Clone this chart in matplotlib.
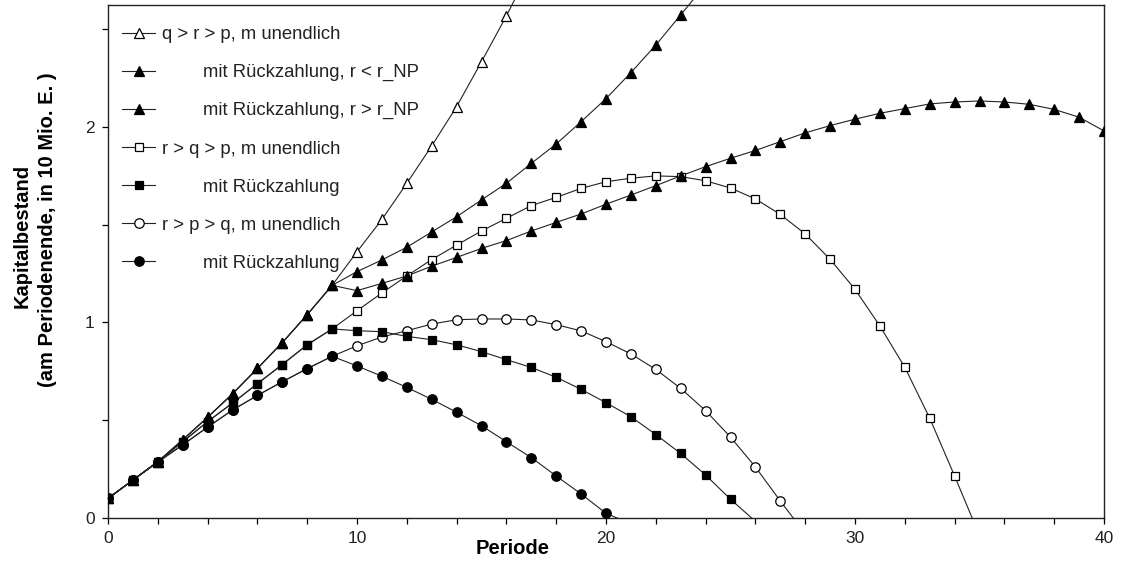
import numpy as np
import matplotlib
matplotlib.use("Agg")
import matplotlib.pyplot as plt
from matplotlib.lines import Line2D
from matplotlib.ticker import MultipleLocator

plt.rcParams['font.family'] = ['Liberation Sans', 'DejaVu Sans']

# ---- data ----
early_tri = [0.10, 0.194, 0.288, 0.40, 0.515, 0.635, 0.765, 0.897, 1.04, 1.19]
early_sq = [0.10, 0.194, 0.288, 0.39, 0.493, 0.588, 0.687, 0.785, 0.886, 0.967]
early_ci = [0.10, 0.194, 0.286, 0.374, 0.465, 0.552, 0.627, 0.697, 0.764, 0.827]

qrp_inf = early_tri + [1.362, 1.527, 1.712, 1.903, 2.104, 2.334, 2.568, 2.82]
qrp_rueck_lt = early_tri + [1.26, 1.32, 1.385, 1.463, 1.541, 1.627, 1.712, 1.814,
                            1.913, 2.027, 2.145, 2.278, 2.419, 2.573, 2.73]
qrp_rueck_gt = early_tri + [1.163, 1.20, 1.238, 1.288, 1.333, 1.379, 1.419, 1.468,
                            1.512, 1.555, 1.605, 1.652, 1.70, 1.75, 1.797, 1.84,
                            1.88, 1.925, 1.97, 2.007, 2.04, 2.07, 2.094, 2.118,
                            2.128, 2.133, 2.128, 2.116, 2.09, 2.05, 1.98]
rqp_inf = early_sq + [1.06, 1.151, 1.238, 1.322, 1.396, 1.468, 1.533, 1.598, 1.64,
                      1.686, 1.72, 1.738, 1.75, 1.746, 1.725, 1.688, 1.632, 1.553,
                      1.453, 1.323, 1.17, 0.982, 0.771, 0.511, 0.215, -0.09]
rqp_rueck = early_sq + [0.958, 0.953, 0.929, 0.912, 0.886, 0.851, 0.81, 0.77, 0.72,
                        0.658, 0.59, 0.518, 0.427, 0.33, 0.22, 0.096, -0.017]
rpq_inf = early_ci + [0.881, 0.926, 0.958, 0.992, 1.014, 1.018, 1.018, 1.013, 0.989,
                      0.957, 0.902, 0.839, 0.76, 0.663, 0.549, 0.414, 0.261, 0.087, -0.08]
rpq_rueck = early_ci + [0.778, 0.725, 0.668, 0.607, 0.541, 0.472, 0.39, 0.309, 0.215,
                        0.123, 0.024, -0.03]

labels = ["q > r > p, m unendlich",
          "        mit Rückzahlung, r < r_NP",
          "        mit Rückzahlung, r > r_NP",
          "r > q > p, m unendlich",
          "        mit Rückzahlung",
          "r > p > q, m unendlich",
          "        mit Rückzahlung"]

XMAX = 40
YMAX = 2.624

# ---- figure ----
fig = plt.figure(figsize=(11.21, 5.64), dpi=100)
ax = fig.add_axes([108/1121, 1-518/564, (1104-108)/1121, (518-5)/564])

series = [
    (qrp_inf, '^', 'white', False),
    (rqp_inf, 's', 'white', True),
    (rpq_inf, 'o', 'white', True),
    (qrp_rueck_lt, '^', 'black', False),
    (qrp_rueck_gt, '^', 'black', True),
    (rqp_rueck, 's', 'black', True),
    (rpq_rueck, 'o', 'black', True),
]
msize = {'^': 7.2, 's': 6.4, 'o': 6.8}
line_color = '#222222'

for vals, mk, fc, clip in series:
    v = np.array(vals, dtype=float)
    t = np.arange(len(v))
    ax.plot(t, v, color=line_color, lw=0.8, clip_on=clip, zorder=2)
    m = (v >= 0) & (v <= YMAX)
    ax.plot(t[m], v[m], linestyle='none', marker=mk, markersize=msize[mk],
            markerfacecolor=fc, markeredgecolor='black', markeredgewidth=0.9,
            zorder=3)

ax.set_xlim(0, XMAX)
ax.set_ylim(0, YMAX)
ax.xaxis.set_major_locator(MultipleLocator(10))
ax.xaxis.set_minor_locator(MultipleLocator(2))
ax.yaxis.set_major_locator(MultipleLocator(1))
ax.yaxis.set_minor_locator(MultipleLocator(0.5))
ax.tick_params(which='both', direction='out', length=4.5, width=0.9,
               top=False, right=False, labelsize=12.5, pad=5, colors='black')
ax.tick_params(axis='both', labelcolor='#222222')
for s in ax.spines.values():
    s.set_linewidth(1.0)
    s.set_color('#222222')

fig.text(513/1121, 1-548/564, "Periode", fontsize=14.5, fontweight='bold',
         ha='center', va='center')
fig.text(22/1121, 1-236/564, "Kapitalbestand", fontsize=14.5, fontweight='bold',
         rotation=90, ha='center', va='center')
fig.text(48/1121, 1-230/564, "(am Periodenende, in 10 Mio. E. )", fontsize=14.5,
         fontweight='bold', rotation=90, ha='center', va='center')

handles = []
for vals, mk, fc, clip in [series[0], series[3], series[4], series[1],
                           series[5], series[2], series[6]]:
    handles.append(Line2D([], [], color=line_color, lw=0.8, marker=mk,
                          markersize=msize[mk], markerfacecolor=fc,
                          markeredgecolor='black', markeredgewidth=0.9))
leg = ax.legend(handles, labels, loc='upper left',
                bbox_to_anchor=(14/996, 1 - 21/513), borderaxespad=0,
                borderpad=0, frameon=False, fontsize=13.3, handlelength=1.8,
                handletextpad=0.35, labelspacing=1.14)
for txt in leg.get_texts():
    txt.set_color('#222222')

fig.savefig("out.png", dpi=100)
